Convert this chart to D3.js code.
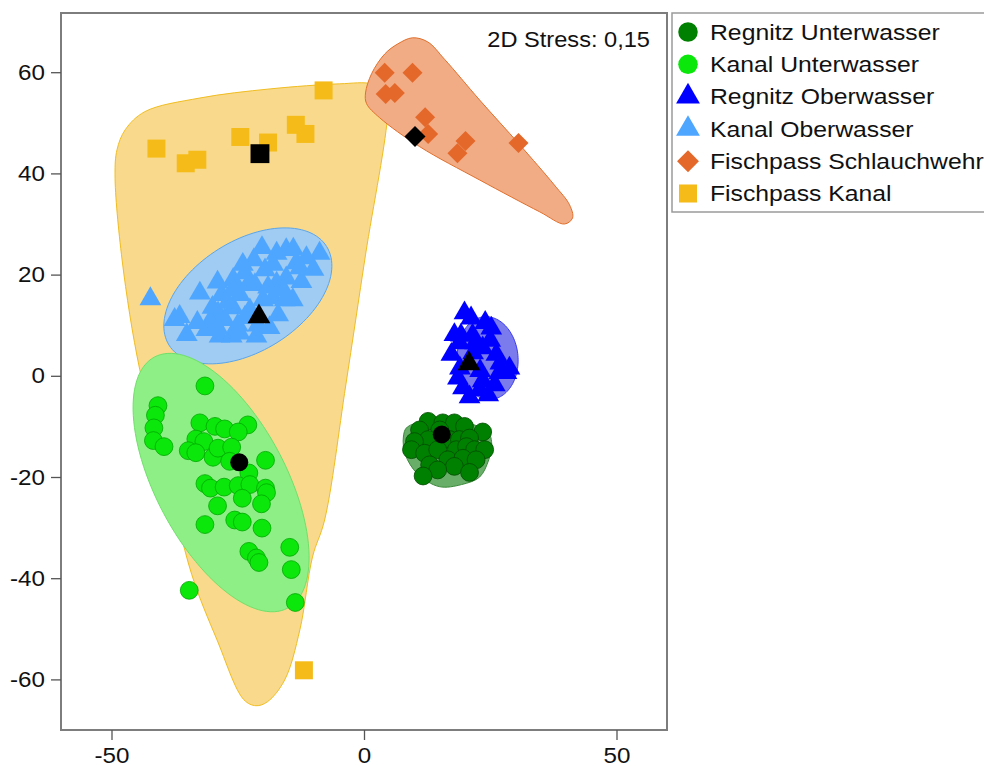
<!DOCTYPE html>
<html>
<head>
<meta charset="utf-8">
<script src="https://cdn.jsdelivr.net/npm/d3@7"></script>
<style>
  html, body { margin: 0; padding: 0; background: #fff; }
  svg { display: block; font-family: "Liberation Sans", Arial, Helvetica, sans-serif; }
</style>
</head>
<body>
<svg id="chart" width="984" height="767"></svg>
<script>
// ---- NMDS ordination scores per sampling site ----
const regnitzUnterwasser = [
  [12.7, -9.0], [15.6, -9.3], [17.9, -9.3], [19.9, -10.0], [11.0, -10.7], [23.5, -11.1],
  [15.0, -10.7], [12.7, -12.6], [10.0, -13.0], [16.9, -12.6], [18.9, -12.6], [20.9, -12.3],
  [9.4, -14.6], [12.0, -15.3], [14.6, -14.6], [18.3, -14.6], [20.3, -14.0], [21.9, -14.6],
  [23.9, -14.6], [13.0, -17.6], [16.6, -16.6], [19.6, -16.3], [22.2, -16.6], [17.9, -17.9],
  [14.6, -18.6], [11.7, -19.8], [20.9, -19.1]
];
const kanalUnterwasser = [
  [-31.5, -2.0], [-40.8, -5.9], [-41.3, -7.8], [-41.6, -10.3], [-41.7, -12.8], [-39.6, -14.0],
  [-32.5, -9.3], [-29.5, -10.0], [-27.6, -10.5], [-23.0, -9.7], [-24.9, -11.1], [-33.3, -12.5],
  [-31.7, -13.0], [-34.8, -14.8], [-33.3, -15.2], [-29.9, -16.1], [-28.9, -14.3], [-26.2, -14.1],
  [-26.6, -16.9], [-19.5, -16.7], [-22.8, -19.2], [-31.5, -21.3], [-30.4, -22.2], [-27.7, -22.0],
  [-24.9, -21.7], [-22.6, -21.5], [-19.5, -22.2], [-19.3, -23.1], [-24.1, -24.2], [-29.0, -25.7],
  [-20.3, -25.3], [-25.6, -28.5], [-24.1, -28.9], [-31.5, -29.4], [-20.2, -30.1], [-22.8, -34.7],
  [-21.3, -36.0], [-20.8, -36.9], [-14.7, -33.9], [-14.4, -38.3], [-34.6, -42.4], [-13.6, -44.8]
];
const regnitzOberwasser = [
  [19.9, 12.4], [21.2, 11.4], [25.2, 9.4], [17.9, 8.1], [19.2, 8.0], [18.9, 6.5],
  [23.5, 5.5], [21.6, 4.5], [26.2, 4.2], [17.3, 4.2], [28.8, 1.5], [26.8, 0.6],
  [28.2, 0.6], [18.6, -0.5], [19.6, -2.4], [22.9, -2.8], [25.9, -1.8], [20.9, -4.2],
  [24.6, -3.8], [23.0, 1.0], [25.0, 7.0], [21.5, 8.0], [23.5, -1.0], [27.0, 2.5],
  [19.0, 1.5], [22.0, 6.5], [24.0, 10.5]
];
const kanalOberwasser = [
  [-42.3, 15.2], [-15.4, 24.9], [-17.3, 24.2], [-21.8, 22.9], [-8.8, 24.2], [-11.4, 23.3],
  [-13.4, 22.3], [-25.9, 19.0], [-23.6, 20.3], [-28.2, 16.0], [-32.5, 16.3], [-17.3, 18.3],
  [-12.4, 18.6], [-15.4, 19.3], [-18.0, 15.4], [-20.0, 15.0], [-25.9, 13.4], [-28.9, 12.4],
  [-30.5, 10.7], [-31.2, 9.1], [-35.1, 8.1], [-36.5, 11.7], [-37.5, 11.1], [-28.6, 7.8],
  [-26.2, 7.8], [-24.6, 8.4], [-21.3, 7.8], [-18.7, 9.5], [-14.1, 15.0], [-19.6, 20.9],
  [-21.6, 18.0], [-24.6, 16.0], [-22.6, 13.0], [-27.6, 11.1], [-23.6, 11.5], [-15.7, 15.0],
  [-12.7, 21.3], [-20.2, 25.3], [-27.0, 14.5], [-30.0, 13.5], [-33.0, 10.5], [-29.0, 9.5],
  [-25.0, 10.0], [-21.0, 10.0], [-17.0, 12.0], [-16.0, 17.0], [-19.0, 17.5], [-23.0, 18.0],
  [-26.0, 17.0], [-29.0, 18.5], [-24.0, 22.0], [-18.0, 22.0], [-14.0, 25.0], [-10.0, 21.0]
];
const fischpassSchlauchwehr = [
  [4.1, 59.9], [9.6, 59.9], [4.3, 55.7], [6.1, 55.9], [12.1, 51.1], [12.7, 47.8],
  [20.1, 46.4], [18.5, 44.0], [30.6, 46.0]
];
const fischpassKanal = [
  [-41.1, 44.9], [-35.3, 42.0], [-33.0, 42.7], [-24.5, 47.2], [-19.0, 46.1], [-13.5, 49.6],
  [-11.6, 47.8], [-8.0, 56.4], [-11.9, -58.2]
];

// group centroids (black markers), same order as the legend
const centroids = [[15.4, -11.6], [-24.7, -17.1], [20.8, 2.4], [-20.8, 11.7], [10.1, 47.3], [-20.6, 43.9]];

// group outlines
const fischpassKanalHull = [
  [-49.3, 39.7], [-48.9, 44.7], [-47.3, 48.6], [-43.4, 52.2], [-32.5, 54.9], [-18.6, 56.7],
  [-4.8, 57.7], [1.5, 57.7], [4.3, 56.1], [4.7, 52.2], [0.3, 23.9], [-3.6, -1.8],
  [-7.8, -28.5], [-10.2, -35.8], [-12.7, -50.2], [-15.7, -60.1], [-19.1, -64.4], [-21.4, -65.2],
  [-23.8, -64.0], [-29.1, -52.2], [-34.1, -39.3], [-39.2, -19.0], [-44.4, 1.2], [-47.9, 22.9]
];
const schlauchwehrHull = [
  [0.3, 55.9], [1.5, 59.7], [4.1, 63.6], [6.7, 65.6], [9.6, 66.8], [12.6, 66.0],
  [16.0, 62.5], [22.9, 54.5], [30.8, 45.7], [37.7, 37.7], [40.7, 33.8], [41.3, 31.2],
  [39.7, 30.0], [34.8, 32.4], [22.9, 38.7], [11.0, 45.3], [3.1, 51.0], [0.5, 53.8]
];
const regnitzUnterwasserHull = [
  [8.6, -10.1], [17.0, -8.7], [24.5, -11.1], [25.3, -13.6], [24.7, -16.6], [22.9, -20.0],
  [19.3, -21.5], [14.9, -21.9], [10.6, -19.4], [8.2, -15.6], [7.8, -12.1]
];
// ellipses: [centre x, centre y, semi-major, semi-minor, angle in degrees]
const kanalUnterwasserEllipse = [-28.3, -21.1, 28.1, 12.9, -62];
const kanalOberwasserEllipse = [-23.0, 15.8, 18.4, 10.9, 32];
const regnitzOberwasserEllipse = [24.5, 3.5, 8.2, 6.0, 95];

const groupNames = ["Regnitz Unterwasser", "Kanal Unterwasser", "Regnitz Oberwasser",
  "Kanal Oberwasser", "Fischpass Schlauchwehr", "Fischpass Kanal"];
const xTicks = [-50, 0, 50];
const yTicks = [-60, -40, -20, 0, 20, 40, 60];
const stressLabel = "2D Stress: 0,15";

// ---- layout ----
const svg = d3.select("#chart");
const x = d3.scaleLinear().domain([-60, 60]).range([61, 667]);
const y = d3.scaleLinear().domain([-70, 71.7]).range([730, 13]);

const styles = [
  { shape: "circle",   fill: "#008000", stroke: "#004a00" },
  { shape: "circle",   fill: "#0be60b", stroke: "#00a800" },
  { shape: "triangle", fill: "#0000ff", stroke: "none" },
  { shape: "triangle", fill: "#4ea6ff", stroke: "none" },
  { shape: "diamond",  fill: "#e4682a", stroke: "none" },
  { shape: "square",   fill: "#f5bb19", stroke: "none" }
];
const groups = [regnitzUnterwasser, kanalUnterwasser, regnitzOberwasser,
  kanalOberwasser, fischpassSchlauchwehr, fischpassKanal];

function symbolPath(shape, scale) {
  const k = scale || 1;
  if (shape === "circle") return d3.symbol(d3.symbolCircle, 250 * k)();
  if (shape === "triangle") return d3.symbol(d3.symbolTriangle, 205 * k)();
  if (shape === "diamond") return d3.symbol(d3.symbolSquare, 200 * k)();
  return d3.symbol(d3.symbolSquare, 324 * k)();
}
function rot(shape) { return shape === "diamond" ? " rotate(45)" : ""; }

const hullLine = d3.line().x(d => x(d[0])).y(d => y(d[1]))
  .curve(d3.curveCatmullRomClosed.alpha(0.5));
const ellLine = d3.line().x(d => x(d[0])).y(d => y(d[1])).curve(d3.curveLinearClosed);
function ellipsePoints(e) {
  const [cx, cy, a, b, deg] = e;
  const phi = deg * Math.PI / 180;
  return d3.range(0, 360, 3).map(t => {
    const r = t * Math.PI / 180;
    return [cx + a * Math.cos(r) * Math.cos(phi) - b * Math.sin(r) * Math.sin(phi),
            cy + a * Math.cos(r) * Math.sin(phi) + b * Math.sin(r) * Math.cos(phi)];
  });
}

const plot = svg.append("g");
plot.append("clipPath").attr("id", "clip").append("rect")
  .attr("x", 61).attr("y", 13).attr("width", 606).attr("height", 717);
const shapes = plot.append("g").attr("clip-path", "url(#clip)");

// outlines
shapes.append("path").attr("d", hullLine(fischpassKanalHull))
  .attr("fill", "#f9da8c").attr("stroke", "#f0bd22").attr("stroke-width", 1);
shapes.append("path").attr("d", hullLine(schlauchwehrHull))
  .attr("fill", "#f1ab85").attr("stroke", "#e0702c").attr("stroke-width", 1);
shapes.append("path").attr("d", ellLine(ellipsePoints(kanalOberwasserEllipse)))
  .attr("fill", "#a0cbf3").attr("stroke", "#5aa5ea").attr("stroke-width", 1);
shapes.append("path").attr("d", ellLine(ellipsePoints(kanalUnterwasserEllipse)))
  .attr("fill", "#8eef86").attr("stroke", "#6fe06a").attr("stroke-width", 1);
shapes.append("path").attr("d", ellLine(ellipsePoints(regnitzOberwasserEllipse)))
  .attr("fill", "#7b7bee").attr("stroke", "#3a3af5").attr("stroke-width", 1);
shapes.append("path").attr("d", hullLine(regnitzUnterwasserHull))
  .attr("fill", "#68ad68").attr("stroke", "#3b8a3b").attr("stroke-width", 1);

// points
groups.forEach((pts, i) => {
  const st = styles[i];
  shapes.append("g").selectAll("path").data(pts).join("path")
    .attr("d", symbolPath(st.shape))
    .attr("transform", d => `translate(${x(d[0])},${y(d[1])})${rot(st.shape)}`)
    .attr("fill", st.fill)
    .attr("stroke", st.stroke)
    .attr("stroke-width", 0.8);
});
// centroids
shapes.append("g").selectAll("path").data(centroids).join("path")
  .attr("d", (d, i) => symbolPath(styles[i].shape, styles[i].shape === "circle" ? 1.02 : 1.1))
  .attr("transform", (d, i) => `translate(${x(d[0])},${y(d[1])})${rot(styles[i].shape)}`)
  .attr("fill", "#000");

// frame
plot.append("rect").attr("x", 61).attr("y", 13).attr("width", 606).attr("height", 717)
  .attr("fill", "none").attr("stroke", "#7d7d7d").attr("stroke-width", 2);

// axes
const TXS = 1.1;
const fmt = d => String(d);
const xAxis = svg.append("g").attr("transform", "translate(0,730)")
  .call(d3.axisBottom(x).tickValues(xTicks).tickFormat(fmt).tickSize(10).tickSizeOuter(0).tickPadding(7));
const yAxis = svg.append("g").attr("transform", "translate(61,0)")
  .call(d3.axisLeft(y).tickValues(yTicks).tickFormat(fmt).tickSize(10).tickSizeOuter(0).tickPadding(6));
[xAxis, yAxis].forEach(ax => {
  ax.select(".domain").remove();
  ax.selectAll(".tick line").attr("stroke", "#555").attr("stroke-width", 1.3);
  ax.selectAll(".tick text")
    .attr("font-size", 22).attr("fill", "#111")
    .attr("font-family", "'Liberation Sans', Arial, sans-serif")
    .each(function () {
      const t = d3.select(this);
      const xv = +t.attr("x") || 0;
      t.attr("x", xv / TXS).attr("transform", `scale(${TXS},1)`);
    });
});

// stress annotation
svg.append("text")
  .attr("transform", "translate(650,46.5) scale(1.05,1)")
  .attr("text-anchor", "end").attr("font-size", 22.5).attr("fill", "#111")
  .text(stressLabel);

// legend
const legend = svg.append("g");
legend.append("rect").attr("x", 672).attr("y", 13).attr("width", 340).attr("height", 199)
  .attr("fill", "#fff").attr("stroke", "#9a9a9a").attr("stroke-width", 1.5);
groupNames.forEach((name, i) => {
  const cy = 32 + i * 32.3;
  const st = styles[i];
  legend.append("path")
    .attr("d", symbolPath(st.shape, st.shape === "circle" ? 1.2 : st.shape === "square" ? 1.0 : 1.2))
    .attr("transform", `translate(688,${cy})${rot(st.shape)}`)
    .attr("fill", st.fill);
  legend.append("text")
    .attr("transform", `translate(710,${cy + 7.8}) scale(1.11,1)`)
    .attr("font-size", 22.3).attr("fill", "#111")
    .text(name);
});
</script>
</body>
</html>
